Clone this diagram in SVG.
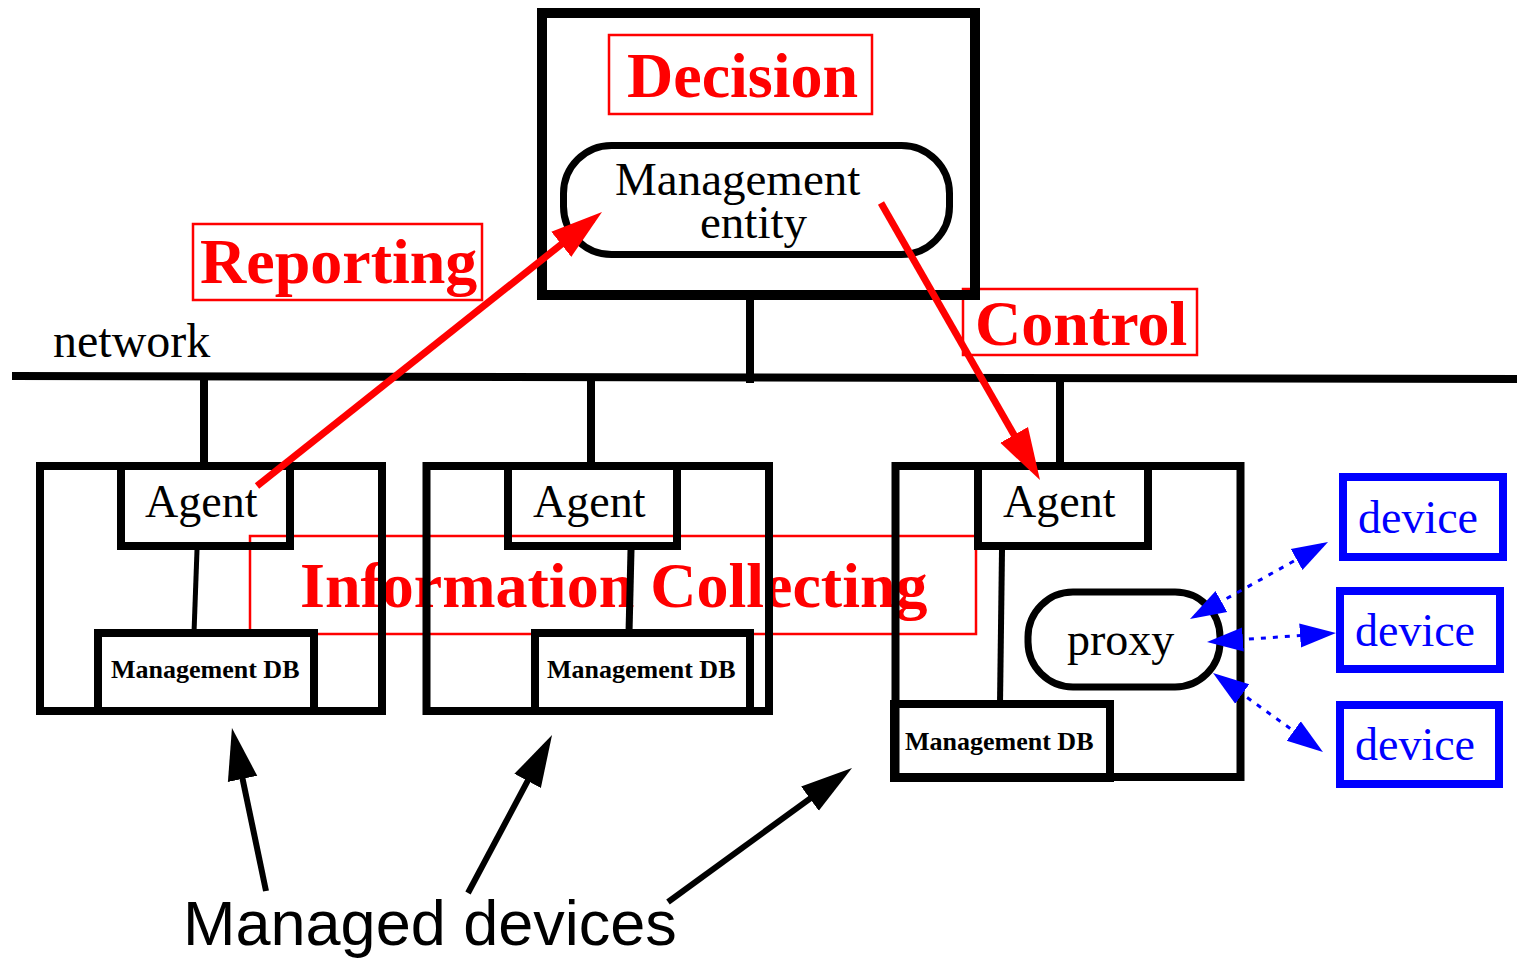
<svg xmlns="http://www.w3.org/2000/svg" width="1517" height="959" viewBox="0 0 1517 959">
<style>
.box{fill:none;stroke:#000;stroke-width:8}
.dev{fill:#fff;stroke:#00f;stroke-width:8}
.lbl{fill:none;stroke:#f00;stroke-width:2.5}
.serif{font-family:"Liberation Serif","Times New Roman",serif}
.t46{font-size:46px;fill:#000}
.red{font-family:"Liberation Serif","Times New Roman",serif;font-weight:bold;font-size:64px;fill:#f00}
.db{font-family:"Liberation Serif","Times New Roman",serif;font-weight:bold;font-size:26px;fill:#000}
.blk{stroke:#000;fill:none}
.rarr{stroke:#f00;stroke-width:7;fill:none;marker-end:url(#rh)}
.karr{stroke:#000;stroke-width:6;fill:none;marker-end:url(#kh)}
.barr{stroke:#00f;stroke-width:3;fill:none;stroke-dasharray:5 7;marker-start:url(#bh);marker-end:url(#bh)}
</style>
<defs>
<marker id="rh" markerUnits="userSpaceOnUse" markerWidth="60" markerHeight="40" refX="40" refY="20" orient="auto" viewBox="0 0 60 40"><path d="M0,4 L52,20 L0,36 z" fill="#f00"/></marker>
<marker id="kh" markerUnits="userSpaceOnUse" markerWidth="60" markerHeight="40" refX="40" refY="20" orient="auto" viewBox="0 0 60 40"><path d="M0,5 L52,20 L0,35 z" fill="#000"/></marker>
<marker id="bh" markerUnits="userSpaceOnUse" markerWidth="40" markerHeight="30" refX="30" refY="15" orient="auto-start-reverse" viewBox="0 0 40 30"><path d="M0,3 L36,15 L0,27 z" fill="#00f"/></marker>
</defs>
<rect width="1517" height="959" fill="#fff"/>

<g id="labels">
<g id="label-decision"><rect class="lbl" x="609" y="35" width="263" height="79"/><text class="red" x="627" y="97">Decision</text></g>
<g id="label-reporting"><rect class="lbl" x="193" y="224" width="289" height="76"/><text class="red" x="200" y="283">Reporting</text></g>
<g id="label-control"><rect class="lbl" x="963" y="289" width="234" height="66"/><text class="red" x="975" y="345">Control</text></g>
<g id="label-info"><rect class="lbl" x="250" y="536" width="726" height="98"/><text class="red" x="300" y="607">Information Collecting</text></g>
</g>

<g id="top-station">
<rect class="box" x="542" y="13" width="433" height="282" style="stroke-width:10"/>
</g>
<g id="management-entity">
<rect x="563.5" y="145.5" width="386" height="109" rx="48" ry="48" fill="#fff" stroke="#000" stroke-width="7"/>
<text class="serif" x="615" y="195" font-size="47" fill="#000">Management</text>
<text class="serif" x="700" y="238" font-size="47" fill="#000">entity</text>
</g>
<text id="network-label" class="serif" x="53" y="357" font-size="48" fill="#000">network</text>

<g id="device1-box"><rect class="box" x="40" y="466" width="342" height="245"/></g>
<g id="agent1"><rect class="box" x="121" y="466" width="169" height="80"/><text class="serif t46" x="145" y="517">Agent</text></g>
<g id="db1"><rect class="box" x="98" y="633" width="216" height="78"/><text class="db" x="111" y="678">Management DB</text></g>

<g id="device2-box"><rect class="box" x="426.5" y="466" width="342.5" height="245"/></g>
<g id="agent2"><rect class="box" x="508" y="466" width="169" height="80"/><text class="serif t46" x="533" y="517">Agent</text></g>
<g id="db2"><rect class="box" x="535" y="633" width="215" height="78"/><text class="db" x="547" y="678">Management DB</text></g>

<g id="device3-box"><rect class="box" x="895.5" y="466" width="345" height="311"/></g>
<g id="agent3"><rect class="box" x="978" y="466" width="170" height="80"/><text class="serif t46" x="1003" y="517">Agent</text></g>
<g id="db3"><rect class="box" x="894" y="704" width="216" height="74"/><text class="db" x="905" y="750">Management DB</text></g>
<g id="proxy"><rect x="1028" y="592" width="192" height="95" rx="45" ry="45" fill="#fff" stroke="#000" stroke-width="7"/><text class="serif t46" x="1067" y="655">proxy</text></g>

<g id="device-a"><rect class="dev" x="1343" y="477" width="160" height="80"/><text class="serif" x="1358" y="533" font-size="46" fill="#00f">device</text></g>
<g id="device-b"><rect class="dev" x="1340" y="591" width="160" height="78"/><text class="serif" x="1355" y="646" font-size="46" fill="#00f">device</text></g>
<g id="device-c"><rect class="dev" x="1340" y="705" width="159" height="79"/><text class="serif" x="1355" y="760" font-size="46" fill="#00f">device</text></g>

<text id="managed-devices" x="183" y="945" font-family="'Liberation Sans',Arial,sans-serif" font-size="63" fill="#000">Managed devices</text>

<g id="connectors">
<path class="blk" d="M12,376 L1517,379" stroke-width="8"/>
<path class="blk" d="M750,298 L750,383" stroke-width="8"/>
<path class="blk" d="M204,379 L204,466" stroke-width="8"/>
<path class="blk" d="M591,379 L591,466" stroke-width="8"/>
<path class="blk" d="M1060,380 L1060,466" stroke-width="8"/>
<path class="blk" d="M197,550 L194,633" stroke-width="5"/>
<path class="blk" d="M631,550 L629,633" stroke-width="7"/>
<path class="blk" d="M1002,550 L1000,704" stroke-width="6"/>
<path class="rarr" d="M257,486 L592.6,219.5"/>
<path class="rarr" d="M881,203 L1034,469.6"/>
<path class="karr" d="M266,891 L234.4,739.7"/>
<path class="karr" d="M468,893 L546.4,745.6"/>
<path class="karr" d="M668,902 L842.3,775.1"/>
<path class="barr" d="M1195.2,616.1 L1322.8,544.9"/>
<path class="barr" d="M1213,641.6 L1330,633.4"/>
<path class="barr" d="M1217.9,676.5 L1318.1,748.5"/>
</g>
</svg>
